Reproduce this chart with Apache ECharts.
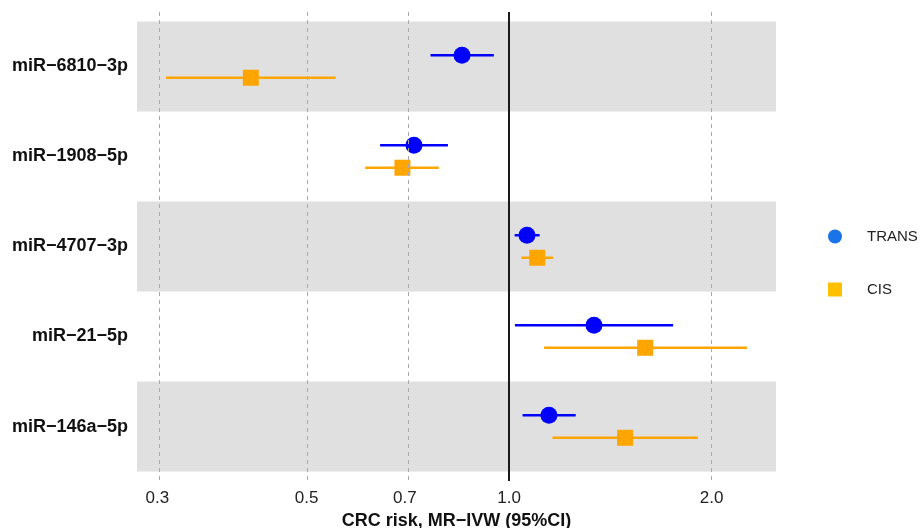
<!DOCTYPE html>
<html>
<head>
<meta charset="utf-8">
<script src="https://cdn.jsdelivr.net/npm/echarts@6/dist/echarts.min.js"></script>
<style>html,body{margin:0;padding:0;background:#fff;}#c{width:921px;height:528px;}</style>
</head>
<body>
<div id="c"></div>
<script>
const categories = ['miR\u22126810\u22123p','miR\u22121908\u22125p','miR\u22124707\u22123p','miR\u221221\u22125p','miR\u2212146a\u22125p'];
const transOR = [0.851, 0.722, 1.063, 1.337, 1.146];
const transLo = [0.764, 0.643, 1.019, 1.020, 1.047];
const transHi = [0.949, 0.811, 1.110, 1.753, 1.256];
const cisOR   = [0.413, 0.694, 1.101, 1.593, 1.487];
const cisLo   = [0.309, 0.611, 1.043, 1.127, 1.160];
const cisHi   = [0.552, 0.786, 1.162, 2.257, 1.908];
const xTicks  = [0.3, 0.5, 0.7, 1.0, 2.0];

const L = Math.log10;
const FONT = '"Liberation Sans", Arial, sans-serif';
const allVals = transLo.concat(transHi, cisLo, cisHi);
const dLo = L(Math.min(...allVals)), dHi = L(Math.max(...allVals));
const pad = 0.05 * (dHi - dLo);
const OFF = 0.125;

const transY = categories.map((c, i) => i + 0.5 - OFF);
const cisY = categories.map((c, i) => i + 0.5 + OFF);

function errData(lo, hi, ys) { return lo.map((v, i) => [L(v), L(hi[i]), ys[i]]); }
function ptData(or, ys) { return or.map((v, i) => [L(v), ys[i]]); }

function errRender(color) {
  return function (params, api) {
    const a = api.coord([api.value(0), api.value(2)]);
    const b = api.coord([api.value(1), api.value(2)]);
    return { type: 'line', shape: { x1: a[0], y1: a[1], x2: b[0], y2: b[1] },
      style: { stroke: color, lineWidth: 2.5 } };
  };
}

const chart = echarts.init(document.getElementById('c'), null, { renderer: 'canvas' });
chart.setOption({
  animation: false,
  backgroundColor: '#ffffff',
  textStyle: { fontFamily: FONT },
  grid: { left: 137, right: 145, top: 12, bottom: 47, containLabel: false, outerBoundsMode: 'none' },
  xAxis: {
    type: 'value', min: dLo - pad, max: dHi + pad,
    axisLine: { show: false }, axisTick: { show: false }, splitLine: { show: false },
    axisLabel: { customValues: xTicks.map(L), formatter: v => Math.pow(10, v).toFixed(1),
      color: '#222', fontSize: 17, margin: 9, fontFamily: FONT },
    name: 'CRC risk, MR\u2212IVW (95%CI)', nameLocation: 'middle', nameGap: 29,
    nameTextStyle: { fontSize: 18, fontWeight: 'bold', color: '#111', fontFamily: FONT }
  },
  yAxis: {
    type: 'value', inverse: true, min: -0.105, max: 5.105,
    axisLine: { show: false }, axisTick: { show: false }, splitLine: { show: false },
    axisLabel: { customValues: categories.map((c, i) => i + 0.5),
      formatter: v => categories[Math.round(v - 0.5)],
      fontSize: 18, fontWeight: 'bold', color: '#111', margin: 9, fontFamily: FONT }
  },
  legend: {
    orient: 'vertical', left: 823, top: 224, itemWidth: 14, itemHeight: 14, itemGap: 38,
    textStyle: { fontSize: 15, color: '#222', fontFamily: FONT, padding: [0, 0, 0, 20] },
    data: [
      { name: 'TRANS', icon: 'circle', itemStyle: { color: '#1a73e8' } },
      { name: 'CIS', icon: 'rect', itemStyle: { color: '#ffc000' } }
    ]
  },
  series: [
    { type: 'scatter', name: 'bands', data: [], z: 0, silent: true,
      markArea: { silent: true, itemStyle: { color: '#e0e0e0' },
        data: [[{ yAxis: 0 }, { yAxis: 1 }], [{ yAxis: 2 }, { yAxis: 3 }], [{ yAxis: 4 }, { yAxis: 5 }]] } },
    { type: 'scatter', name: 'grid', data: [], z: 1, silent: true,
      markLine: { silent: true, symbol: 'none', label: { show: false },
        data: xTicks.map(t => t === 1.0
          ? { xAxis: L(t), lineStyle: { color: '#1a1a1a', width: 2, type: 'solid' } }
          : { xAxis: L(t), lineStyle: { color: '#aaaaaa', width: 1, type: [4, 4] } }) } },
    { type: 'custom', name: 'TRANS_ci', data: errData(transLo, transHi, transY), z: 3,
      renderItem: errRender('#0000ff'), encode: { x: [0, 1], y: 2 }, silent: true },
    { type: 'custom', name: 'CIS_ci', data: errData(cisLo, cisHi, cisY), z: 3,
      renderItem: errRender('#ffa500'), encode: { x: [0, 1], y: 2 }, silent: true },
    { type: 'scatter', name: 'TRANS', data: ptData(transOR, transY), symbol: 'circle', symbolSize: 17,
      itemStyle: { color: '#0000ff', opacity: 1 }, z: 4 },
    { type: 'scatter', name: 'CIS', data: ptData(cisOR, cisY), symbol: 'rect', symbolSize: 16,
      itemStyle: { color: '#ffa500', opacity: 1 }, z: 4 }
  ]
});
</script>
</body>
</html>
